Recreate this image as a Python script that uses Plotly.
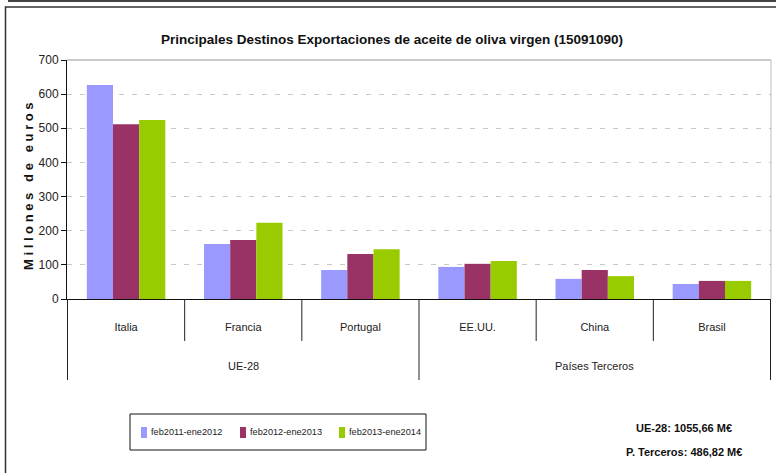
import plotly.graph_objects as go

countries = ["Italia", "Francia", "Portugal", "EE.UU.", "China", "Brasil"]
groups = ["UE-28", "Países Terceros"]
group_centers = ["Francia", "China"]
series_names = ["feb2011-ene2012", "feb2012-ene2013", "feb2013-ene2014"]
s2012 = [627, 161, 85, 94, 59, 44]
s2013 = [512, 173, 132, 103, 85, 53]
s2014 = [524, 223, 146, 111, 67, 53]
colors = ["#9999FF", "#993366", "#99CC00"]
y_ticks = [0, 100, 200, 300, 400, 500, 600, 700]
summary = ["UE-28: 1055,66 M€", "P. Terceros: 486,82 M€"]

FONT = "Liberation Sans Narrow, Arial Narrow, Liberation Sans, Arial, sans-serif"

W, H = 776, 473
L, R, T, B = 67, 5, 60, 174
pw, ph = W - L - R, H - T - B

def px(xp):
    return (xp - L) / pw

def py(yp):
    return (H - B - yp) / ph

fig = go.Figure()
for name, vals, c in zip(series_names, [s2012, s2013, s2014], colors):
    fig.add_trace(go.Bar(x=countries, y=vals, name=name, showlegend=False,
                         marker=dict(color=c, line=dict(width=0))))

shapes = []
# category dividers
for i in range(len(countries) + 1):
    xpos = i - 0.5
    long_ = i in (0, 3, 6)
    shapes.append(dict(type="line", xref="x", yref="paper", x0=xpos, x1=xpos,
                       y0=0, y1=py(380) if long_ else py(341),
                       line=dict(color="#222222", width=1)))
# plot area top and right gray border
shapes.append(dict(type="line", xref="paper", yref="paper", x0=0, x1=1, y0=1, y1=1,
                   line=dict(color="#999999", width=1)))
shapes.append(dict(type="line", xref="paper", yref="paper", x0=1, x1=1, y0=0, y1=1,
                   line=dict(color="#bbbbbb", width=1)))
# outer frame
shapes.append(dict(type="rect", xref="paper", yref="paper", x0=px(5.5), x1=px(790), y0=py(7), y1=py(490),
                   line=dict(color="#333333", width=1.5)))
shapes.append(dict(type="line", xref="paper", yref="paper", x0=px(8), x1=px(790), y0=py(1), y1=py(1),
                   line=dict(color="#444444", width=2)))

annotations = []
for g, c in zip(groups, group_centers):
    annotations.append(dict(x=c, xref="x", y=py(366), yref="paper", text=g, showarrow=False,
                            font=dict(family=FONT, size=11, color="#222222"),
                            xanchor="center", yanchor="middle"))
annotations.append(dict(x=px(28), y=py(186), xref="paper", yref="paper",
                        text="<b>M i l l o n e s   d e   e u r o s</b>", textangle=-90, showarrow=False,
                        font=dict(family=FONT, size=13, color="#111111"), xanchor="center", yanchor="middle"))
for txt, yy in zip(summary, [428, 452]):
    annotations.append(dict(x=px(684), y=py(yy), xref="paper", yref="paper", text="<b>" + txt + "</b>",
                            xanchor="center", yanchor="middle",
                            showarrow=False, font=dict(family=FONT, size=11, color="#111111")))

# legend box (drawn with shapes/annotations to match the original compact layout)
shapes.append(dict(type="rect", xref="paper", yref="paper", x0=px(130), x1=px(426), y0=py(414), y1=py(450),
                   line=dict(color="#111111", width=1), fillcolor="white"))
leg_sym_x = [141, 240, 339]
for name, c, sx in zip(series_names, colors, leg_sym_x):
    shapes.append(dict(type="rect", xref="paper", yref="paper", x0=px(sx), x1=px(sx + 6),
                       y0=py(427), y1=py(438), line=dict(width=0), fillcolor=c))
    annotations.append(dict(x=px(sx + 8), y=py(432), xref="paper", yref="paper", text=name,
                            xanchor="left", yanchor="middle", showarrow=False,
                            font=dict(family=FONT, size=9.2, color="#222222")))

fig.update_layout(
    width=W, height=H,
    margin=dict(l=L, r=R, t=T, b=B, autoexpand=False),
    paper_bgcolor="white", plot_bgcolor="white",
    barmode="group", bargap=0.33, bargroupgap=0,
    showlegend=False,
    font=dict(family=FONT, size=12, color="#222222"),
    title=dict(text="<b>Principales Destinos Exportaciones de aceite de oliva virgen (15091090)</b>",
               x=392 / W, y=1 - 39 / H, xanchor="center", yanchor="middle",
               font=dict(family=FONT, size=13.5, color="#111111")),
    xaxis=dict(showline=True, linecolor="#111111", linewidth=1, ticks="", showgrid=False,
               ticklabelstandoff=18, tickfont=dict(family=FONT, size=11, color="#222222")),
    yaxis=dict(range=[0, 700], tickvals=y_ticks, showline=True, linecolor="#111111", linewidth=1,
               ticks="outside", ticklen=5, tickcolor="#111111", zeroline=False,
               showgrid=True, gridcolor="#c8c8c8", griddash="5px,8px", gridwidth=1,
               tickfont=dict(family=FONT, size=12, color="#222222")),
    shapes=shapes, annotations=annotations,
)
fig.write_html("out.html", config={"displayModeBar": False},
               post_script="document.body.style.margin='0px';")
